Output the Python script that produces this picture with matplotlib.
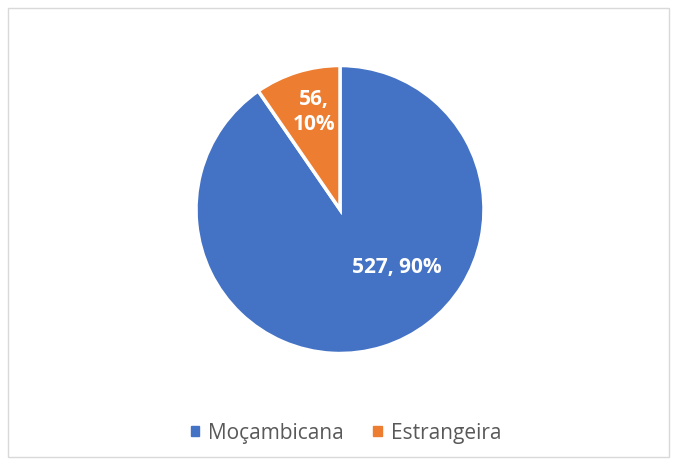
import matplotlib.pyplot as plt
from matplotlib.patches import Rectangle

# data
categories = ['Moçambicana', 'Estrangeira']
values = [527, 56]
colors = ['#4472C4', '#ED7D31']

plt.rcParams['font.family'] = ['Open Sans', 'DejaVu Sans']

fig = plt.figure(figsize=(6.77, 4.65), dpi=100)
fig.patches.append(Rectangle((8 / 677, 8 / 465), 661 / 677, 449 / 465,
                             transform=fig.transFigure, fill=False,
                             edgecolor='#D9D9D9', linewidth=1))

ax = fig.add_axes([196 / 677, (465 - 353.5) / 465, 288 / 677, 288 / 465])
wedges, _ = ax.pie(values, colors=colors, startangle=90, counterclock=False,
                   radius=1, wedgeprops=dict(edgecolor='white', linewidth=2.5))
ax.set_xlim(-1, 1)
ax.set_ylim(-1, 1)
ax.set_aspect('equal')

total = sum(values)
pcts = [round(v / total * 100) for v in values]
ax.text(0.395, -0.40, '%d, %d%%' % (values[0], pcts[0]), ha='center', va='center',
        color='white', fontsize=15, fontweight='bold')
ax.text(-0.18, 0.68, '%d,\n%d%%' % (values[1], pcts[1]), ha='center', va='center',
        color='white', fontsize=15, fontweight='bold', linespacing=1.25)

handles = [Rectangle((0, 0), 1, 1, color=c) for c in colors]
fig.legend(handles, categories, loc='center', bbox_to_anchor=(346 / 677, 1 - 433 / 465),
           ncol=2, frameon=False, fontsize=15, labelcolor='#595959',
           handlelength=0.4, handleheight=0.4, handletextpad=0.45, columnspacing=1.4)

fig.savefig('out.png', dpi=100)
